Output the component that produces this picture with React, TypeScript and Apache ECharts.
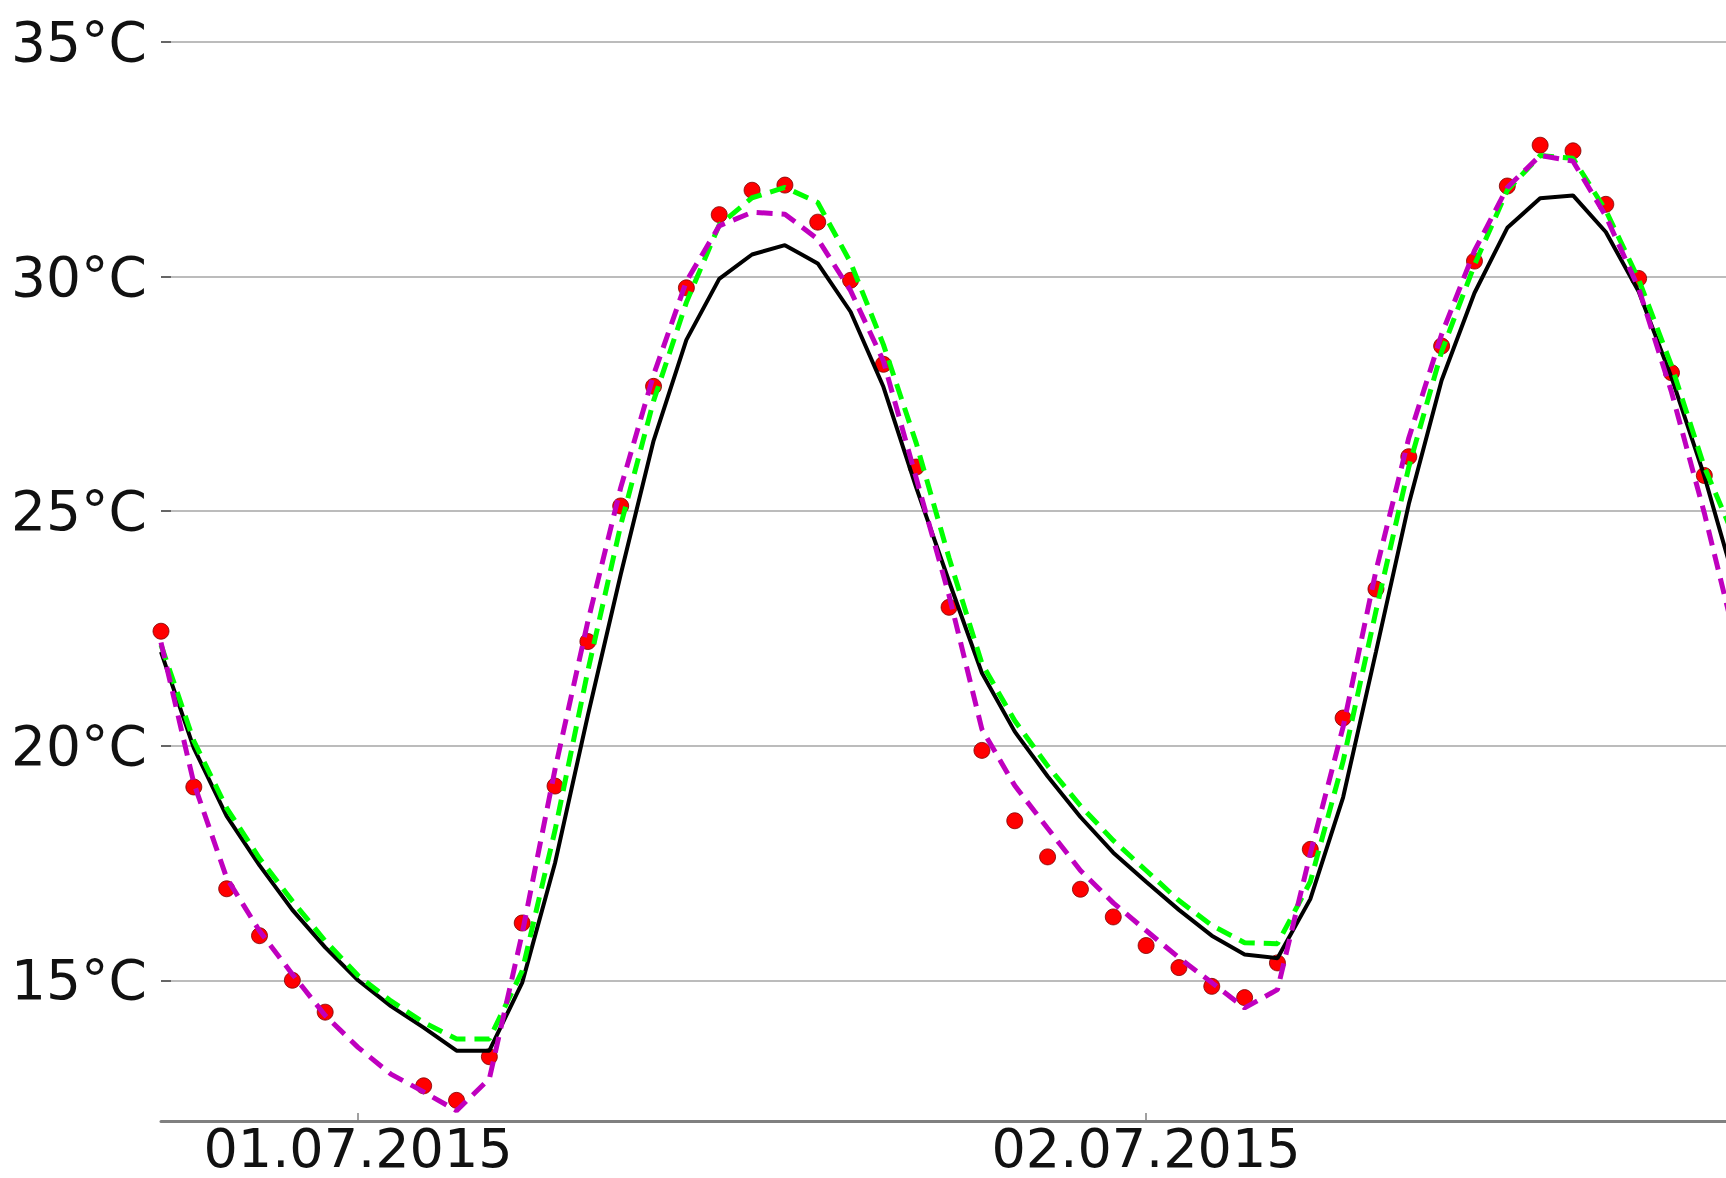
import React, { useEffect, useRef } from "react";
import * as echarts from "echarts";

// hours since 30.06.2015 18:00
const hours = [
  0, 1, 2, 3, 4, 5, 6, 7, 8, 9, 10, 11, 12, 13, 14, 15, 16, 17, 18, 19, 20, 21, 22, 23, 24,
  25, 26, 27, 28, 29, 30, 31, 32, 33, 34, 35, 36, 37, 38, 39, 40, 41, 42, 43, 44, 45, 46, 47, 48,
];

const blackSeries = [
  22.0, 19.95, 18.5, 17.45, 16.5, 15.7, 15.0, 14.45, 13.99, 13.5, 13.5, 14.95, 17.5, 20.65, 23.65,
  26.5, 28.65, 29.95, 30.47, 30.67, 30.28, 29.25, 27.65, 25.5, 23.5, 21.55, 20.3, 19.35, 18.48,
  17.72, 17.1, 16.5, 15.95, 15.55, 15.47, 16.73, 18.9, 22.0, 25.15, 27.79, 29.65, 31.04, 31.67,
  31.73, 30.95, 29.68, 27.85, 25.75, 23.3,
];

const greenSeries = [
  22.15, 20.1, 18.67, 17.6, 16.69, 15.84, 15.1, 14.56, 14.1, 13.75, 13.75, 15.2, 18.2, 21.6, 24.7,
  27.35, 29.45, 31.1, 31.68, 31.9, 31.58, 30.3, 28.55, 26.45, 24.0, 21.75, 20.53, 19.57, 18.72,
  17.98, 17.34, 16.7, 16.17, 15.8, 15.78, 17.1, 19.67, 22.87, 25.94, 28.4, 30.25, 31.84, 32.58,
  32.52, 31.41, 29.94, 28.1, 25.94, 24.3,
];

const magentaSeries = [
  22.2, 19.2, 17.18, 16.05, 15.13, 14.25, 13.57, 13.0, 12.62, 12.22, 12.9, 16.0, 19.5, 22.65, 25.5,
  27.9, 29.9, 31.08, 31.37, 31.33, 30.8, 29.7, 28.2, 25.7, 23.2, 20.35, 19.15, 18.24, 17.34, 16.65,
  16.06, 15.48, 14.95, 14.41, 14.8, 17.7, 20.4, 23.73, 26.56, 28.77, 30.55, 31.9, 32.58, 32.46,
  31.29, 29.75, 27.54, 24.96, 22.1,
];

const redDots: (number | null)[] = [
  22.44, 19.12, 16.95, 15.95, 15.0, 14.32, null, null, 12.75, 12.44, 13.37, 16.22, 19.14, 22.22,
  25.11, 27.66, 29.76, 31.32, 31.84, 31.95, 31.16, 29.92, 28.13, 25.94, 22.95, 19.9, 18.4, 17.63,
  16.94, 16.35, 15.74, 15.27, 14.87, 14.63, 15.37, 17.79, 20.59, 23.34, 26.16, 28.52, 30.33, 31.93,
  32.8, 32.68, 31.54, 29.96, 27.95, 25.76, null,
];

const dayTicks = [Date.UTC(2015, 6, 1), Date.UTC(2015, 6, 2)];
const dayLabels = ["01.07.2015", "02.07.2015"];
const yTicks = [15, 20, 25, 30, 35];

const START = Date.UTC(2015, 5, 30, 18);
const HOUR = 3600 * 1000;
const X_END_HOURS = 47.66;

const toPairs = (vals: (number | null)[]) =>
  hours
    .map((h, i) => [START + h * HOUR, vals[i]] as [number, number | null])
    .filter((p) => p[1] !== null && p[1] !== undefined);

const FONT = "DejaVu Sans";

export default function App() {
  const ref = useRef<HTMLDivElement>(null);
  useEffect(() => {
    if (!ref.current) return;
    const chart = echarts.init(ref.current, undefined, { renderer: "svg" });
    chart.setOption({
      animation: false,
      backgroundColor: "#ffffff",
      grid: { left: 161, right: 0, top: 42, bottom: 57, containLabel: false },
      xAxis: {
        type: "value",
        min: START,
        max: START + X_END_HOURS * HOUR,
        axisLine: { show: true, lineStyle: { color: "#808080", width: 3 } },
        axisTick: {
          show: true,
          inside: true,
          length: 8,
          customValues: dayTicks,
          lineStyle: { color: "#808080", width: 1.5 },
        },
        axisLabel: {
          show: true,
          customValues: dayTicks,
          margin: 5,
          lineHeight: 44,
          color: "#111",
          fontFamily: FONT,
          fontSize: 54,
          formatter: (v: number) => {
            const i = dayTicks.indexOf(v);
            return i >= 0 ? dayLabels[i] : "";
          },
        },
        splitLine: { show: false },
      },
      yAxis: {
        type: "value",
        min: 12,
        max: 35,
        axisLine: { show: false },
        axisTick: {
          show: true,
          inside: true,
          length: 10,
          customValues: yTicks,
          lineStyle: { color: "#666", width: 2 },
        },
        axisLabel: {
          show: true,
          customValues: yTicks,
          margin: 14,
          color: "#111",
          fontFamily: FONT,
          fontSize: 55,
          formatter: (v: number) => `${v}°C`,
        },
        splitLine: { show: true, lineStyle: { color: "#bcbcbc", width: 2 } },
      },
      series: [
        {
          name: "black",
          type: "line",
          data: toPairs(blackSeries),
          showSymbol: false,
          symbol: "none",
          clip: true,
          lineStyle: { color: "#000000", width: 4 },
        },
        {
          name: "red",
          type: "scatter",
          data: toPairs(redDots),
          symbol: "circle",
          symbolSize: 16,
          clip: true,
          itemStyle: { color: "#ff0000", borderColor: "#7a0000", borderWidth: 0.8, opacity: 1 },
        },
        {
          name: "green",
          type: "line",
          data: toPairs(greenSeries),
          showSymbol: false,
          symbol: "none",
          clip: true,
          lineStyle: { color: "#00ff00", width: 5, type: [16, 9] },
        },
        {
          name: "magenta",
          type: "line",
          data: toPairs(magentaSeries),
          showSymbol: false,
          symbol: "none",
          clip: true,
          lineStyle: { color: "#bf00bf", width: 5, type: [16, 9] },
        },
      ],
    });
    return () => chart.dispose();
  }, []);
  return (
    <div
      ref={ref}
      style={{ position: "fixed", left: 0, top: 0, width: 1726, height: 1178, background: "#fff" }}
    />
  );
}
